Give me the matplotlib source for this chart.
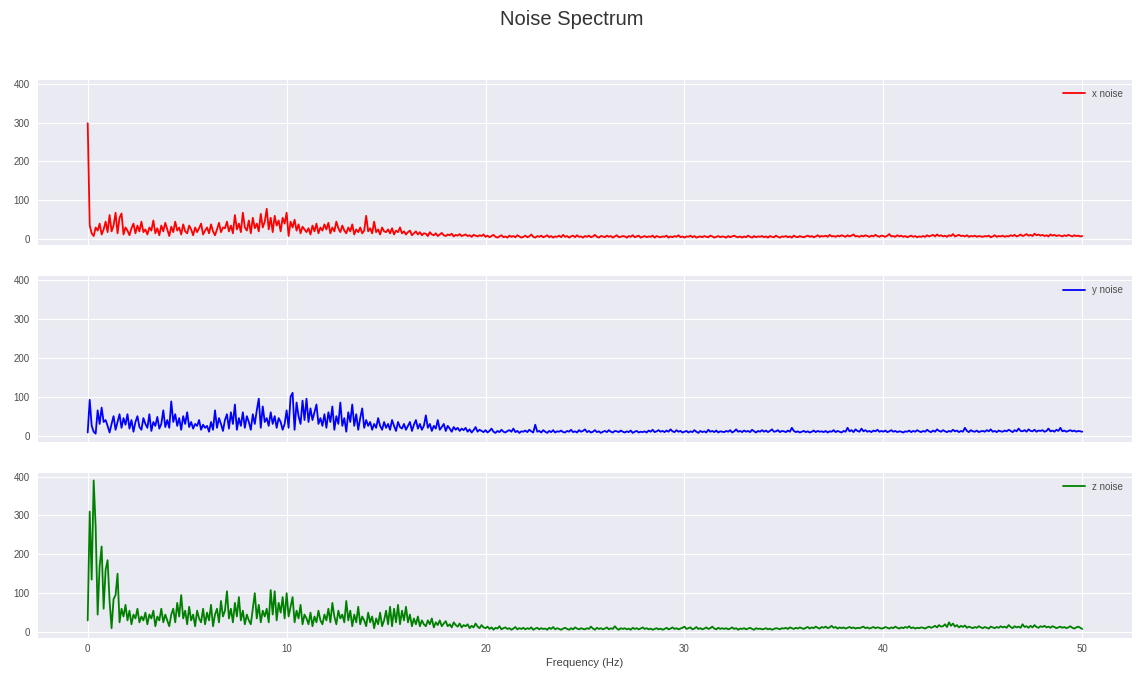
import numpy as np
import matplotlib
matplotlib.use("Agg")
import matplotlib.pyplot as plt

FREQ_STEP = 0.1  # Hz per spectrum bin

x_noise = [
    298, 35, 15, 8, 30, 22, 40, 12, 25, 45,
    18, 62, 20, 35, 68, 15, 55, 66, 12, 30,
    22, 10, 28, 40, 15, 35, 20, 45, 18, 25,
    12, 30, 22, 48, 15, 28, 10, 35, 20, 42,
    25, 8, 32, 18, 45, 22, 30, 12, 38, 20,
    15, 35, 25, 10, 30, 18, 28, 40, 12, 22,
    30, 15, 38, 20, 10, 25, 42, 18, 30, 28,
    45, 20, 35, 15, 62, 25, 40, 18, 68, 30,
    22, 48, 15, 55, 28, 40, 20, 65, 30, 45,
    78, 25, 55, 18, 60, 35, 48, 20, 55, 40,
    68, 8, 45, 30, 50, 22, 38, 15, 32, 25,
    18, 28, 12, 35, 20, 40, 15, 30, 22, 38,
    25, 42, 15, 30, 20, 45, 28, 18, 35, 22,
    15, 30, 20, 38, 12, 25, 18, 30, 15, 22,
    60, 20, 28, 15, 45, 18, 25, 12, 30, 20,
    18, 25, 15, 28, 12, 22, 18, 30, 15, 20,
    12, 18, 22, 10, 15, 20, 12, 18, 10, 15,
    14, 8, 18, 12, 10, 15, 8, 12, 16, 10,
    8, 12, 10, 14, 7, 11, 9, 13, 8, 10,
    12, 8, 10, 6, 11, 9, 7, 10, 8, 12,
    6, 9, 5, 8, 11, 6, 4, 7, 10, 5,
    7, 4, 9, 6, 8, 5, 10, 7, 4, 6,
    9, 5, 7, 12, 6, 4, 8, 6, 9, 5,
    7, 10, 5, 8, 4, 7, 6, 9, 5, 11,
    6, 8, 4, 7, 9, 5, 10, 6, 7, 4,
    8, 6, 9, 5, 7, 11, 6, 4, 8, 7,
    5, 9, 6, 8, 4, 7, 10, 5, 6, 8,
    7, 4, 8, 6, 10, 5, 7, 9, 4, 6,
    8, 5, 7, 6, 9, 4, 8, 6, 5, 7,
    6, 9, 4, 7, 5, 8, 6, 10, 5, 7,
    4, 7, 6, 9, 5, 8, 4, 6, 7, 5,
    8, 6, 5, 9, 7, 4, 6, 8, 5, 7,
    6, 4, 8, 5, 7, 9, 6, 5, 7, 4,
    7, 5, 9, 6, 4, 8, 5, 7, 6, 8,
    5, 7, 4, 8, 6, 5, 9, 6, 4, 7,
    6, 8, 5, 7, 4, 9, 6, 5, 8, 6,
    5, 7, 9, 6, 8, 5, 7, 10, 6, 8,
    7, 9, 6, 11, 7, 8, 6, 9, 7, 10,
    8, 6, 10, 7, 9, 12, 7, 8, 6, 9,
    7, 10, 8, 6, 9, 7, 11, 8, 6, 9,
    8, 6, 9, 13, 7, 8, 6, 10, 7, 9,
    6, 8, 5, 7, 9, 6, 8, 5, 7, 6,
    8, 6, 10, 7, 9, 11, 7, 12, 8, 10,
    7, 9, 6, 10, 8, 13, 7, 9, 11, 8,
    9, 7, 10, 6, 8, 7, 9, 6, 8, 7,
    6, 8, 7, 9, 5, 7, 10, 6, 8, 7,
    9, 6, 8, 7, 10, 8, 11, 7, 9, 12,
    8, 10, 13, 9, 11, 8, 14, 10, 12, 9,
    11, 8, 10, 7, 12, 9, 11, 8, 10, 9,
    7, 10, 8, 11, 9, 7, 10, 8, 9, 7,
    8,
]

y_noise = [
    8, 92, 25, 10, 5, 65, 30, 72, 35, 40,
    25, 8, 30, 50, 15, 35, 55, 20, 45, 28,
    55, 18, 40, 10, 35, 50, 22, 15, 45, 30,
    20, 55, 12, 35, 25, 48, 18, 30, 65, 22,
    40, 20, 88, 35, 55, 25, 45, 15, 50, 30,
    60, 22, 35, 18, 30, 25, 40, 15, 28, 20,
    25, 10, 35, 15, 65, 20, 45, 30, 12, 40,
    55, 18, 60, 30, 80, 15, 45, 25, 60, 20,
    50, 35, 15, 55, 30, 65, 95, 20, 75, 35,
    45, 25, 60, 30, 50, 20, 45, 35, 15, 30,
    65, 20, 100, 110, 15, 85, 50, 30, 90, 40,
    95, 35, 70, 40, 60, 80, 30, 45, 25, 55,
    20, 60, 35, 75, 15, 50, 30, 85, 25, 45,
    10, 60, 35, 80, 25, 55, 15, 45, 70, 20,
    40, 25, 35, 15, 30, 20, 45, 25, 15, 35,
    20, 30, 15, 40, 25, 12, 35, 22, 18, 30,
    15, 25, 35, 12, 28, 40, 18, 30, 15, 25,
    52, 20, 30, 12, 25, 18, 40, 15, 22, 30,
    12, 25, 18, 10, 22, 15, 20, 12, 18, 14,
    20, 10, 16, 8, 14, 22, 10, 15, 12, 9,
    14, 8, 12, 18, 10, 7, 12, 9, 15, 10,
    8, 12, 14, 10, 18, 9, 12, 7, 11, 10,
    13, 9, 15, 11, 8, 28, 10, 12, 8, 14,
    10, 7, 12, 9, 14, 8, 11, 10, 13, 9,
    8, 12, 10, 15, 9, 11, 8, 14, 10, 12,
    16, 9, 12, 8, 10, 14, 9, 11, 7, 10,
    12, 9, 14, 10, 8, 12, 11, 9, 13, 10,
    8, 11, 9, 13, 7, 10, 12, 8, 10, 9,
    11, 8, 13, 10, 15, 9, 11, 14, 10, 12,
    9, 13, 10, 16, 11, 9, 14, 10, 12, 8,
    10, 12, 8, 11, 9, 14, 10, 7, 12, 9,
    11, 8, 15, 10, 12, 9, 13, 8, 11, 10,
    9, 12, 10, 14, 8, 11, 16, 10, 12, 9,
    13, 10, 12, 9, 15, 11, 8, 12, 10, 14,
    10, 13, 9, 12, 16, 10, 11, 14, 9, 12,
    11, 9, 13, 10, 20, 12, 9, 11, 8, 10,
    12, 9, 11, 8, 10, 13, 9, 12, 10, 11,
    9, 12, 8, 11, 10, 14, 9, 12, 10, 8,
    12, 10, 20, 11, 14, 9, 16, 12, 10, 18,
    11, 14, 10, 12, 9, 13, 11, 15, 10, 12,
    10, 13, 9, 11, 14, 10, 12, 9, 11, 10,
    8, 11, 10, 13, 9, 12, 10, 14, 11, 9,
    12, 10, 15, 11, 9, 13, 10, 16, 12, 10,
    14, 11, 9, 12, 10, 15, 11, 13, 9, 12,
    10, 20, 12, 9, 14, 11, 10, 13, 9, 11,
    12, 10, 14, 11, 16, 10, 12, 9, 13, 11,
    10, 13, 11, 15, 12, 9, 14, 11, 18, 12,
    11, 14, 10, 16, 12, 11, 15, 10, 13, 12,
    14, 10, 12, 18, 11, 13, 10, 15, 12, 20,
    11, 13, 10, 12, 14, 11, 13, 10, 12, 11,
    10,
]

z_noise = [
    30, 310, 135, 390, 270, 45, 170, 220, 60, 160,
    185, 80, 10, 85, 95, 150, 25, 60, 40, 70,
    30, 55, 20, 45, 35, 60, 25, 40, 30, 50,
    20, 45, 35, 55, 15, 40, 30, 60, 25, 45,
    30, 15, 45, 60, 25, 75, 40, 95, 35, 55,
    20, 65, 30, 45, 15, 55, 35, 25, 60, 20,
    50, 30, 70, 15, 45, 60, 25, 80, 40, 55,
    105, 35, 60, 25, 75, 40, 90, 30, 55, 20,
    45, 30, 20, 60, 100, 35, 70, 25, 55, 40,
    60, 25, 108, 45, 105, 30, 75, 50, 90, 35,
    100, 40, 65, 90, 25, 55, 35, 70, 20, 45,
    35, 20, 50, 15, 40, 25, 55, 30, 20, 45,
    30, 60, 25, 75, 40, 20, 55, 35, 45, 25,
    80, 30, 55, 15, 45, 25, 65, 20, 40, 30,
    15, 50, 25, 40, 10, 35, 20, 50, 15, 30,
    55, 20, 65, 15, 60, 25, 70, 20, 55, 30,
    65, 25, 45, 15, 35, 20, 40, 15, 30, 20,
    15, 30, 20, 35, 12, 25, 18, 30, 15, 22,
    28, 15, 20, 12, 25, 18, 14, 22, 12, 18,
    15, 20, 10, 16, 12, 22, 14, 10, 18, 12,
    10, 14, 8, 12, 6, 11, 9, 15, 7, 10,
    12, 8, 10, 6, 9, 13, 7, 10, 8, 11,
    7, 10, 8, 12, 6, 9, 11, 7, 10, 8,
    9, 6, 11, 8, 13, 7, 10, 8, 6, 9,
    11, 8, 6, 10, 7, 12, 9, 7, 10, 8,
    7, 10, 8, 14, 9, 6, 11, 8, 10, 7,
    9, 12, 7, 10, 8, 15, 9, 6, 10, 8,
    10, 7, 9, 6, 11, 8, 10, 7, 9, 12,
    8, 10, 7, 9, 6, 8, 10, 7, 9, 6,
    8, 11, 7, 9, 12, 8, 10, 7, 9, 11,
    14, 8, 10, 12, 7, 9, 13, 8, 10, 7,
    9, 12, 8, 10, 14, 9, 7, 11, 8, 10,
    8, 10, 7, 9, 12, 8, 10, 6, 9, 8,
    10, 7, 9, 11, 8, 6, 10, 8, 9, 7,
    8, 10, 7, 9, 6, 8, 10, 9, 7, 10,
    9, 11, 8, 12, 10, 8, 11, 9, 12, 10,
    8, 11, 13, 9, 12, 10, 14, 11, 9, 13,
    11, 14, 10, 12, 16, 11, 13, 9, 12, 10,
    12, 9, 11, 13, 10, 12, 9, 11, 10, 12,
    14, 10, 12, 9, 11, 13, 10, 12, 11, 9,
    10, 13, 11, 9, 12, 10, 14, 11, 9, 12,
    10, 13, 11, 15, 10, 12, 9, 11, 10, 12,
    11, 9, 12, 14, 11, 13, 16, 12, 18, 14,
    15, 20, 13, 25, 16, 22, 14, 18, 12, 16,
    13, 17, 11, 14, 12, 10, 13, 11, 15, 12,
    10, 13, 11, 9, 14, 12, 10, 13, 11, 15,
    12, 14, 11, 18, 13, 10, 15, 12, 14, 11,
    20, 13, 15, 11, 16, 12, 18, 13, 11, 15,
    13, 16, 12, 14, 11, 15, 13, 10, 12, 14,
    11, 13, 10, 12, 15, 11, 9, 12, 14, 11,
    8,
]

series = [(x_noise, "r", "x noise"), (y_noise, "b", "y noise"), (z_noise, "g", "z noise")]
x_ticks = [0, 10, 20, 30, 40, 50]
y_ticks = [0, 100, 200, 300, 400]

plt.style.use("seaborn-v0_8-darkgrid")
plt.rcParams["font.family"] = ["Liberation Sans", "DejaVu Sans"]

fig, axes = plt.subplots(3, 1, sharex=True, sharey=True, figsize=(11.44, 6.74), dpi=100)
fig.subplots_adjust(left=0.0332, right=0.9895, top=0.8813, bottom=0.0534, hspace=0.19)

for ax, (vals, col, lab) in zip(axes, series):
    f = np.arange(len(vals)) * FREQ_STEP
    ax.plot(f, vals, color=col, linewidth=1.3, label=lab)
    ax.legend(loc="upper right", frameon=False, fontsize=7, handlelength=2.2)
    ax.set_yticks(y_ticks)
    ax.tick_params(axis="both", labelsize=7, colors=".3", pad=6)
    for t in ax.get_legend().get_texts():
        t.set_color(".3")

axes[-1].set_xticks(x_ticks)
axes[-1].set_xlabel("Frequency (Hz)", fontsize=8, color=".25", labelpad=3)
axes[-1].tick_params(axis="x", pad=4)
fig.suptitle("Noise Spectrum", fontsize=14.5, y=0.985, color=".2")

fig.savefig("out.png", dpi=100)
